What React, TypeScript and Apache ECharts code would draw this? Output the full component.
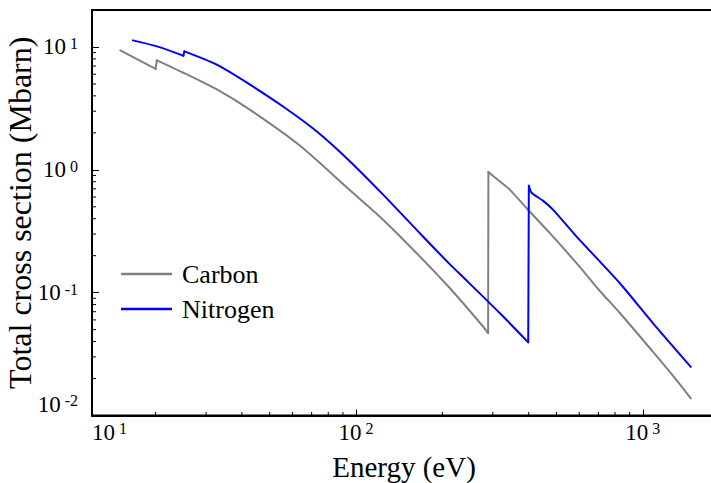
import React, { useEffect, useRef } from "react";
import * as echarts from "echarts";

const CARBON_E = [15.06, 20.0, 20.2, 25.0, 32.8, 42.7, 63.8, 95.3, 124.5, 162.7, 212.5, 277.7, 288.8, 289.4, 317.6, 344.1, 393.4, 474.2, 587.5, 708.5, 831.7, 1086, 1311, 1470];
const CARBON_S = [9.38, 6.62, 7.78, 6.17, 4.49, 3.08, 1.57, 0.681, 0.391, 0.2095, 0.1086, 0.0528, 0.0467, 0.958, 0.803, 0.687, 0.487, 0.305, 0.1737, 0.1032, 0.0683, 0.0329, 0.0194, 0.01378];

const NITROGEN_E = [16.67, 20.21, 25.0, 25.2, 32.7, 42.7, 55.8, 73.0, 95.3, 124.5, 162.7, 212.5, 243.0, 317.6, 398.5, 400.5, 409.4, 449.4, 487.0, 587.5, 831.7, 1086, 1470];
const NITROGEN_S = [11.32, 10.11, 8.49, 9.21, 7.17, 4.93, 3.26, 2.05, 1.17, 0.625, 0.3243, 0.1698, 0.1255, 0.0679, 0.0394, 0.741, 0.65, 0.559, 0.472, 0.286, 0.1193, 0.0563, 0.0249];

const X_MIN = 12;
const X_MAX = 1800;
const Y_MIN = 0.01;
const Y_MAX = 20;

const X_MINOR = [20, 30, 40, 50, 60, 70, 80, 90, 200, 300, 400, 500, 600, 700, 800, 900];
const Y_MINOR = [0.02, 0.03, 0.04, 0.05, 0.06, 0.07, 0.08, 0.09, 0.2, 0.3, 0.4, 0.5, 0.6, 0.7, 0.8, 0.9, 2, 3, 4, 5, 6, 7, 8, 9];

const SERIES_NAMES = ["Carbon", "Nitrogen"];
const SERIES_COLORS = ["#808080", "#0000ff"];
const X_TITLE = "Energy (eV)";
const Y_TITLE = "Total cross section (Mbarn)";

const FONT = "Liberation Serif";

const zip = (a: number[], b: number[]) => a.map((v, i) => [v, b[i]]);

// split a curve into smooth stretches and straight absorption-edge jumps
const splitAtEdges = (pts: number[][]) => {
  const segs: { data: number[][]; jump: boolean }[] = [];
  let cur: number[][] = [pts[0]];
  for (let i = 1; i < pts.length; i++) {
    const isJump = pts[i][0] / pts[i - 1][0] < 1.02;
    if (isJump) {
      if (cur.length > 1) segs.push({ data: cur, jump: false });
      segs.push({ data: [pts[i - 1], pts[i]], jump: true });
      cur = [pts[i]];
    } else {
      cur.push(pts[i]);
    }
  }
  if (cur.length > 1) segs.push({ data: cur, jump: false });
  return segs;
};

const txt = (size: number) => ({ fontFamily: FONT, fontSize: size, fontWeight: "normal", fontStyle: "normal", color: "#000" });

const richLabel = {
  b: { ...txt(23) },
  s: { ...txt(16), verticalAlign: "top", padding: [0, 0, 0, 4] },
};

const fmt = (v: number) => {
  const e = Math.round(Math.log10(v));
  return `{b|10}{s|${e}}`;
};

export default function App() {
  const ref = useRef<HTMLDivElement>(null);
  useEffect(() => {
    if (!ref.current) return;
    const chart = echarts.init(ref.current, null, { renderer: "svg" });

    const curves = [zip(CARBON_E, CARBON_S), zip(NITROGEN_E, NITROGEN_S)];
    const lineSeries: any[] = [];
    curves.forEach((pts, k) => {
      splitAtEdges(pts).forEach((seg) => {
        lineSeries.push({
          name: SERIES_NAMES[k],
          type: "line",
          data: seg.data,
          symbol: "none",
          showSymbol: false,
          smooth: seg.jump ? false : 0.25,
          lineStyle: { color: SERIES_COLORS[k], width: 2, cap: "round", join: "round" },
          itemStyle: { color: SERIES_COLORS[k] },
          z: 3 + k,
        });
      });
    });

    const option: any = {
      animation: false,
      backgroundColor: "#fff",
      textStyle: { fontFamily: FONT, fontWeight: "normal" },
      grid: {
        left: 92,
        top: 10,
        right: -5,
        bottom: 67.5,
        show: true,
        borderColor: "#000",
        borderWidth: 2,
        containLabel: false,
        outerBoundsMode: "none",
      },
      legend: {
        orient: "vertical",
        left: 116,
        top: 255,
        itemWidth: 51,
        itemHeight: 2.5,
        itemGap: 7,
        icon: "rect",
        data: SERIES_NAMES.map((n, i) => ({ name: n, icon: "rect", itemStyle: { color: SERIES_COLORS[i] } })),
        textStyle: { ...txt(26), padding: [0, 0, 0, 5], lineHeight: 28 },
      },
      xAxis: {
        type: "log",
        logBase: 10,
        min: X_MIN,
        max: X_MAX,
        name: X_TITLE,
        nameLocation: "middle",
        nameGap: 37,
        nameMoveOverlap: false,
        nameTextStyle: { ...txt(29) },
        axisLine: { show: true, lineStyle: { color: "#000", width: 2 } },
        axisTick: { show: true, inside: true, length: 6, lineStyle: { color: "#000", width: 1 } },
        axisLabel: {
          margin: 5,
          formatter: fmt,
          rich: richLabel,
          showMinLabel: true,
          showMaxLabel: false,
          alignMinLabel: "left",
          hideOverlap: false,
        },
        splitLine: { show: false },
      },
      yAxis: {
        type: "log",
        logBase: 10,
        min: Y_MIN,
        max: Y_MAX,
        name: Y_TITLE,
        nameLocation: "middle",
        nameGap: 56,
        nameMoveOverlap: false,
        nameTextStyle: { ...txt(32) },
        axisLine: { show: true, lineStyle: { color: "#000", width: 2 } },
        axisTick: { show: true, inside: true, length: 7, lineStyle: { color: "#000", width: 1 } },
        axisLabel: {
          margin: 14,
          formatter: fmt,
          rich: richLabel,
          showMinLabel: true,
          showMaxLabel: false,
          verticalAlignMinLabel: "bottom",
          hideOverlap: false,
        },
        splitLine: { show: false },
      },
      series: [
        ...lineSeries,
        {
          name: "xMinor",
          type: "custom",
          silent: true,
          z: 6,
          data: X_MINOR.map((v) => [v, Y_MIN]),
          renderItem: (_p: any, api: any) => {
            const p = api.coord([api.value(0), api.value(1)]);
            return {
              type: "line",
              shape: { x1: p[0], y1: p[1], x2: p[0], y2: p[1] - 3.5 },
              style: { stroke: "#000", lineWidth: 1 },
            };
          },
        },
        {
          name: "yMinor",
          type: "custom",
          silent: true,
          z: 6,
          data: Y_MINOR.map((v) => [X_MIN, v]),
          renderItem: (_p: any, api: any) => {
            const p = api.coord([api.value(0), api.value(1)]);
            return {
              type: "line",
              shape: { x1: p[0], y1: p[1], x2: p[0] + 4, y2: p[1] },
              style: { stroke: "#000", lineWidth: 1 },
            };
          },
        },
      ],
    };
    chart.setOption(option);
    return () => chart.dispose();
  }, []);
  return (
    <div
      ref={ref}
      style={{ position: "fixed", left: 0, top: 0, width: 711, height: 483, background: "#fff" }}
    />
  );
}
